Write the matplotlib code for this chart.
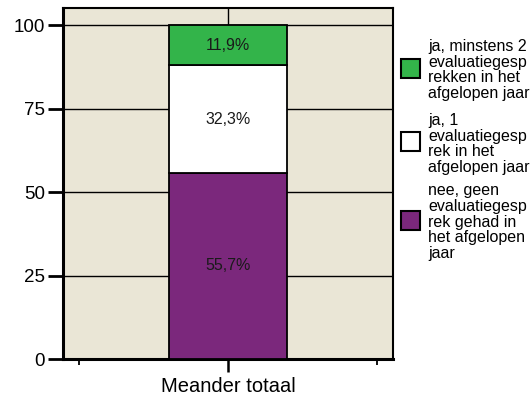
import matplotlib.pyplot as plt
from matplotlib.patches import Rectangle

plt.rcParams['font.family'] = ['Liberation Sans', 'DejaVu Sans']

categories = ["Meander totaal"]
series = [
    "nee, geen\nevaluatiegesp\nrek gehad in\nhet afgelopen\njaar",
    "ja, 1\nevaluatiegesp\nrek in het\nafgelopen jaar",
    "ja, minstens 2\nevaluatiegesp\nrekken in het\nafgelopen jaar",
]
values = [55.7, 32.3, 11.9]
labels = ["55,7%", "32,3%", "11,9%"]
colors = ["#7b287c", "#ffffff", "#33b44a"]
yticks = [0, 25, 50, 75, 100]

fig = plt.figure(figsize=(5.3, 4.03), dpi=100)
ax = fig.add_axes([63 / 530, 44 / 403, 330 / 530, 351 / 403])
ax.set_facecolor("#eae6d6")

bottom = 0
for v, lab, c in zip(values, labels, colors):
    ax.bar(0, v, width=0.71, bottom=bottom, color=c, edgecolor="black",
           linewidth=1.3, zorder=3)
    ax.text(0, bottom + v / 2, lab, ha="center", va="center",
            fontsize=11.5, color="#1a1a1a", zorder=4)
    bottom += v

ax.set_xlim(-1, 1)
ax.set_ylim(0, 105.1)
ax.set_yticks(yticks)
ax.set_yticklabels([str(t) for t in yticks], fontsize=13.5)
ax.set_xticks([0])
ax.set_xticklabels(categories, fontsize=14.5)
ax.set_xticks([-0.903, 0.903], minor=True)
ax.tick_params(axis="y", length=11, width=2, pad=2)
ax.tick_params(axis="x", which="major", length=9, width=1.8, pad=4)
ax.tick_params(axis="x", which="minor", length=4.5, width=1.3)
ax.grid(True, which="major", color="black", linewidth=1.0, zorder=1)
ax.set_axisbelow(True)
for s in ax.spines.values():
    s.set_linewidth(1.5)
ax.spines["left"].set_linewidth(2.2)
ax.spines["bottom"].set_linewidth(2.2)

# hand-placed legend on the right
legend_y = [220, 142, 68]
for name, c, y in zip(series, colors, legend_y):
    fig.patches.append(Rectangle(((401) / 530, 1 - (y + 9.5) / 403), 19 / 530, 19 / 403,
                                 transform=fig.transFigure, facecolor=c,
                                 edgecolor="black", linewidth=1.5))
    fig.text(428 / 530, 1 - (y + 2) / 403, name, ha="left", va="center",
             fontsize=11.5, linespacing=1.05)

fig.savefig("out.png", dpi=100)
